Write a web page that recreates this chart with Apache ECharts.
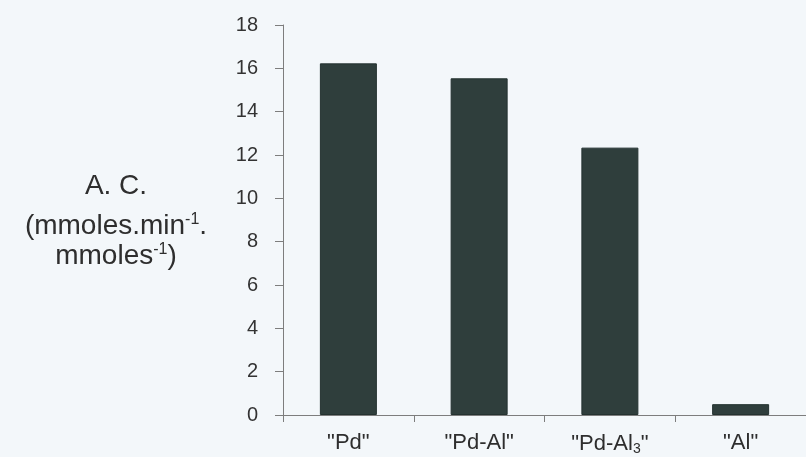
<!DOCTYPE html>
<html>
<head>
<meta charset="utf-8">
<script src="https://cdn.jsdelivr.net/npm/echarts@6/dist/echarts.min.js"></script>
<style>
html,body{margin:0;padding:0;background:#f3f7fa;}
#c{width:806px;height:457px;}
</style>
</head>
<body>
<div id="c"></div>
<script>
const categories = ['"Pd"', '"Pd-Al"', '"Pd-Al3"', '"Al"'];
const activity = [16.23, 15.54, 12.34, 0.5];
const yTicks = { min: 0, max: 18, interval: 2 };
const yTitleLines = ['A. C.', '(mmoles.min{sup|-1}.', 'mmoles{sup|-1})'];

const chart = echarts.init(document.getElementById('c'));
const FONT = '"Liberation Sans", Arial, sans-serif';
const titleY = [186, 226, 256];
chart.setOption({
  backgroundColor: '#f3f7fa',
  animation: false,
  grid: { left: 283, top: 25, width: 525, height: 390, containLabel: false },
  graphic: yTitleLines.map((t, i) => ({
    type: 'text',
    x: 116, y: titleY[i],
    style: {
      text: t,
      fill: '#2e2e2e',
      fontFamily: FONT,
      fontSize: 28,
      align: 'center',
      verticalAlign: 'middle',
      rich: {
        sup: { fontSize: 16, verticalAlign: 'top', fill: '#2e2e2e', fontFamily: FONT, padding: [0, 0, 10, 0] }
      }
    }
  })),
  xAxis: {
    type: 'category',
    data: categories,
    axisLine: { lineStyle: { color: '#7d7d7d', width: 1 } },
    axisTick: { show: true, interval: 0, length: 7, inside: false, lineStyle: { color: '#7d7d7d' } },
    axisLabel: {
      interval: 0,
      hideOverlap: false,
      margin: 17,
      color: '#2e2e2e',
      fontFamily: FONT,
      fontSize: 22,
      formatter: v => v.replace('Al3', 'Al{sub|3}'),
      rich: {
        sub: { fontSize: 14, verticalAlign: 'bottom', padding: [10, 0, 0, 0], color: '#2e2e2e', fontFamily: FONT }
      }
    }
  },
  yAxis: {
    type: 'value',
    min: yTicks.min, max: yTicks.max, interval: yTicks.interval,
    splitLine: { show: false },
    axisLine: { show: true, lineStyle: { color: '#7d7d7d', width: 1 } },
    axisTick: { show: true, length: 8, lineStyle: { color: '#7d7d7d' } },
    axisLabel: { margin: 25, color: '#333', fontFamily: FONT, fontSize: 20 }
  },
  series: [{
    type: 'bar',
    data: activity,
    barWidth: 57,
    itemStyle: { color: '#2f3e3c', borderColor: '#243230', borderWidth: 1 }
  }]
});
</script>
</body>
</html>
